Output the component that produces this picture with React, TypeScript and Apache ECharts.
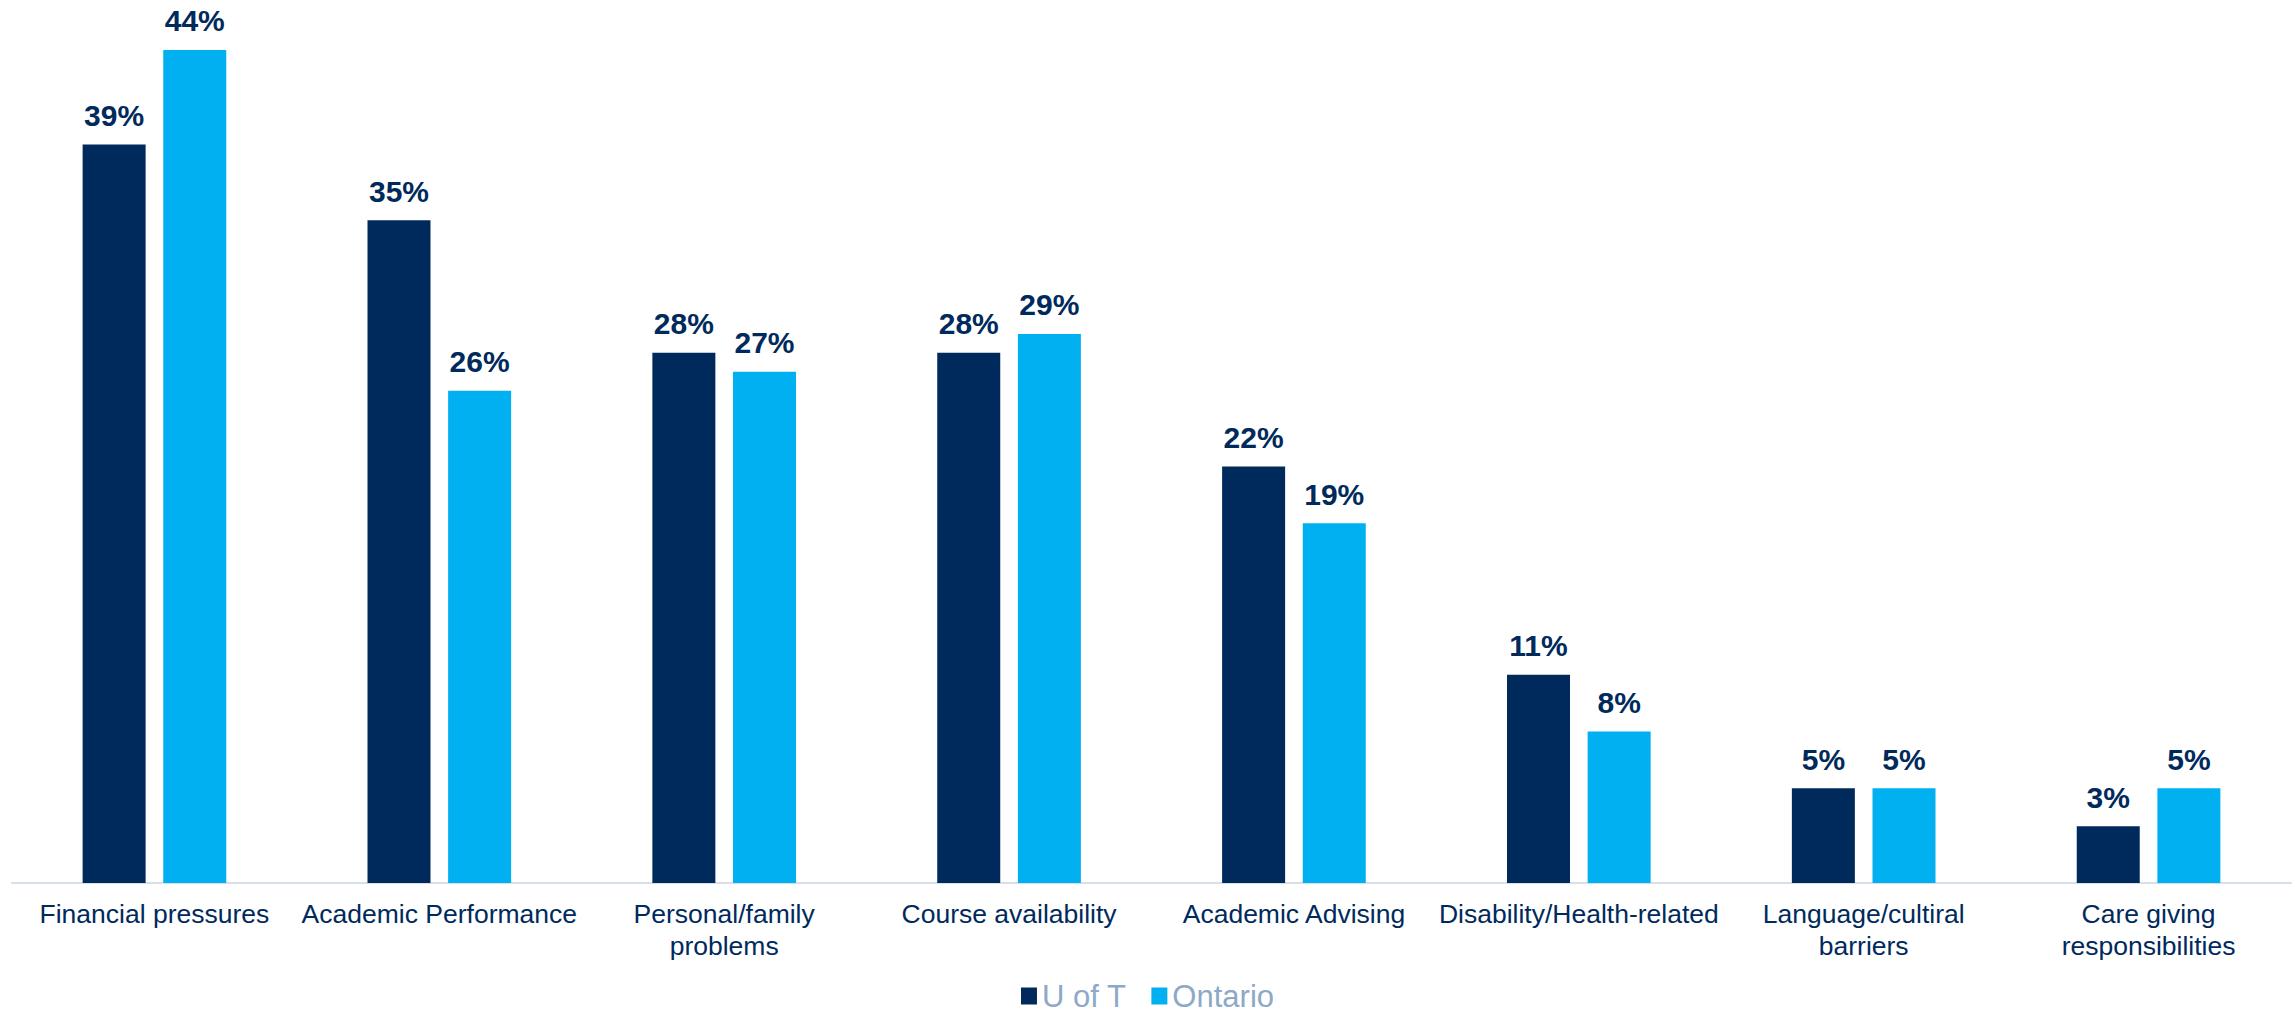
import React, { useEffect, useRef } from "react";
import * as echarts from "echarts";

const categories = [
  "Financial pressures",
  "Academic Performance",
  "Personal/family\nproblems",
  "Course availability",
  "Academic Advising",
  "Disability/Health-related",
  "Language/cultiral\nbarriers",
  "Care giving\nresponsibilities",
];
const uoftValues = [39, 35, 28, 28, 22, 11, 5, 3];
const ontarioValues = [44, 26, 27, 29, 19, 8, 5, 5];
const seriesNames = ["U of T", "Ontario"];

const NAVY = "#002A5C";
const CYAN = "#00B0F0";
const FONT = "Liberation Sans, Arial, sans-serif";

export default function App() {
  const ref = useRef<HTMLDivElement>(null);
  useEffect(() => {
    if (!ref.current) return;
    const chart = echarts.init(ref.current, undefined, { renderer: "svg" });
    const label = {
      show: true,
      position: "top",
      distance: 14,
      color: NAVY,
      fontFamily: FONT,
      fontWeight: "bold",
      fontSize: 30,
      formatter: (p: any) => p.value + "%",
    };
    chart.setOption({
      animation: false,
      backgroundColor: "#ffffff",
      grid: { left: 12, right: 4, top: 31, bottom: 134, containLabel: false },
      legend: {
        top: 979,
        left: "center",
        padding: 0,
        icon: "rect",
        itemWidth: 16,
        itemHeight: 17,
        itemGap: 25,
        textStyle: { color: "#8DA9C7", fontSize: 31, lineHeight: 34, fontFamily: FONT },
        data: seriesNames,
      },
      xAxis: {
        type: "category",
        data: categories,
        axisLine: { show: true, lineStyle: { color: "#D9DFE8", width: 2 } },
        axisTick: { show: false },
        axisLabel: {
          interval: 0,
          margin: 15,
          color: NAVY,
          fontSize: 26.5,
          lineHeight: 32,
          fontFamily: FONT,
        },
      },
      yAxis: {
        type: "value",
        min: 0,
        max: 45,
        show: false,
        splitLine: { show: false },
      },
      series: [
        {
          name: seriesNames[0],
          type: "bar",
          data: uoftValues,
          barWidth: 63,
          barGap: "28%",
          itemStyle: { color: NAVY },
          label,
        },
        {
          name: seriesNames[1],
          type: "bar",
          data: ontarioValues,
          barWidth: 63,
          barGap: "28%",
          itemStyle: { color: CYAN },
          label,
        },
      ],
    });
    return () => chart.dispose();
  }, []);
  return (
    <div
      ref={ref}
      style={{ position: "fixed", left: 0, top: 0, width: 2295, height: 1017 }}
    />
  );
}
